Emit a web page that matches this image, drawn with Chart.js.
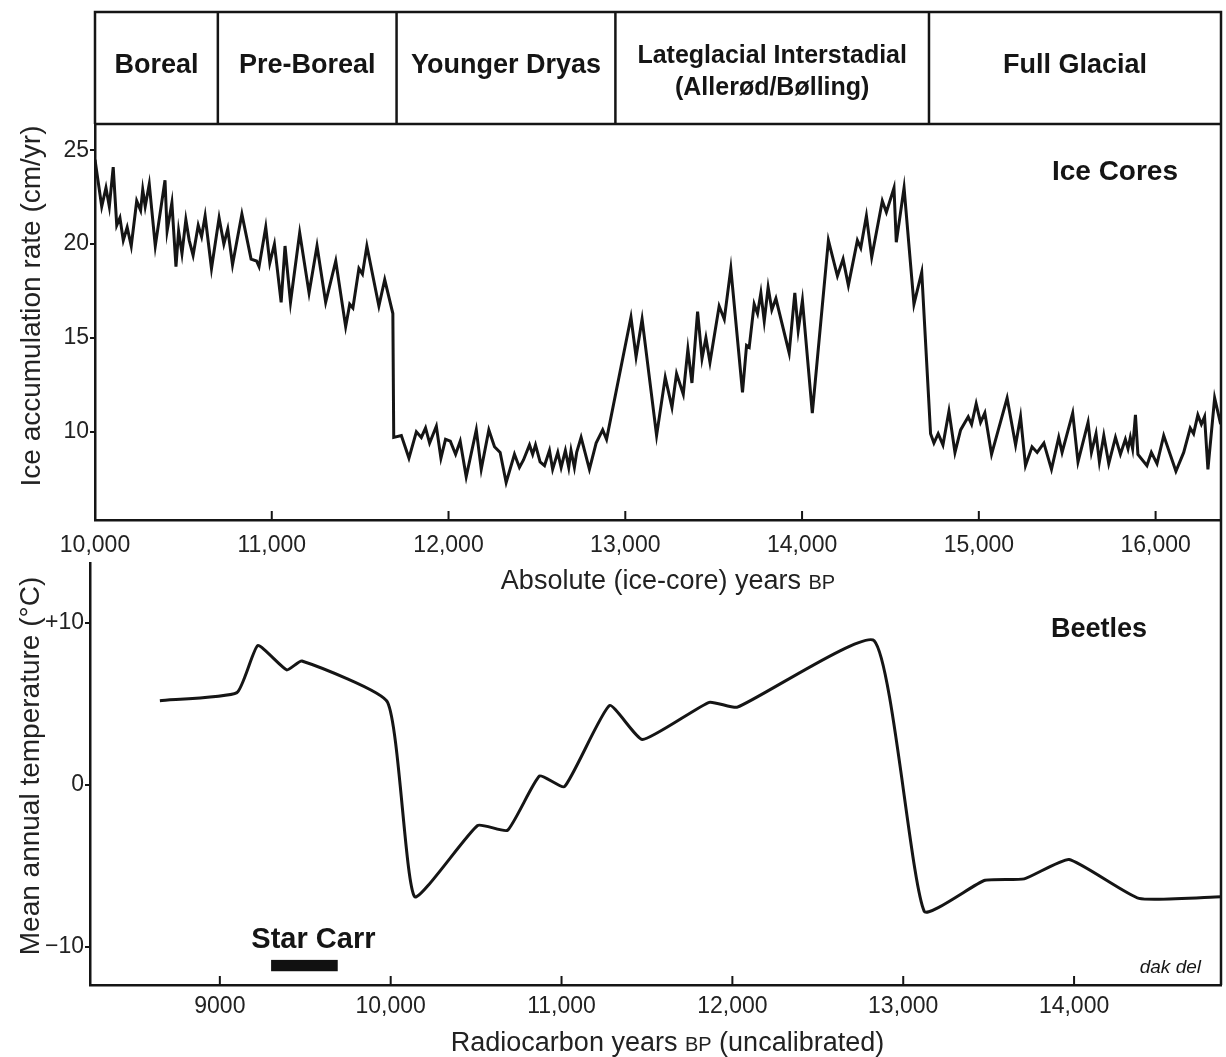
<!DOCTYPE html>
<html>
<head>
<meta charset="utf-8">
<script src="https://cdn.jsdelivr.net/npm/chart.js@4/dist/chart.umd.min.js"></script>
<style>
  html, body { margin: 0; padding: 0; background: #fff; }
  #wrap { position: relative; width: 1226px; height: 1057px; }
  #wrap canvas { position: absolute; left: 0; top: 0; }
</style>
</head>
<body>
<div id="wrap">
  <canvas id="ice" width="1226" height="1057"></canvas>
  <canvas id="beetle" width="1226" height="1057"></canvas>
</div>
<script>
// Ice accumulation (absolute ice-core years BP, cm/yr)
var iceYears = [10000, 10038, 10062, 10081, 10103, 10123, 10141, 10160, 10182, 10205, 10236, 10258, 10270, 10284, 10307, 10341, 10396, 10408, 10435, 10458, 10473, 10492, 10514, 10533, 10555, 10584, 10603, 10623, 10659, 10702, 10729, 10751, 10778, 10831, 10883, 10914, 10928, 10966, 10989, 11015, 11053, 11075, 11106, 11158, 11211, 11256, 11305, 11362, 11418, 11441, 11459, 11493, 11513, 11538, 11606, 11639, 11685, 11690, 11733, 11776, 11818, 11846, 11870, 11893, 11931, 11957, 11983, 12010, 12040, 12066, 12100, 12157, 12185, 12228, 12260, 12292, 12326, 12373, 12401, 12424, 12458, 12476, 12492, 12518, 12543, 12571, 12589, 12618, 12637, 12661, 12680, 12693, 12712, 12725, 12750, 12797, 12835, 12872, 12894, 13032, 13061, 13095, 13177, 13226, 13264, 13290, 13328, 13354, 13377, 13409, 13434, 13456, 13479, 13531, 13560, 13597, 13663, 13686, 13701, 13729, 13748, 13767, 13786, 13808, 13829, 13852, 13927, 13959, 13978, 14002, 14058, 14149, 14200, 14232, 14262, 14313, 14332, 14364, 14394, 14454, 14477, 14520, 14533, 14577, 14633, 14677, 14727, 14746, 14770, 14797, 14831, 14865, 14897, 14940, 14959, 14985, 15010, 15034, 15072, 15160, 15208, 15236, 15264, 15301, 15330, 15368, 15411, 15452, 15471, 15531, 15561, 15618, 15637, 15663, 15682, 15707, 15735, 15773, 15801, 15829, 15844, 15857, 15870, 15886, 15900, 15951, 15976, 16008, 16046, 16115, 16159, 16196, 16215, 16239, 16259, 16277, 16296, 16334, 16368];
var iceRate = [24.5, 22.0, 23.0, 22.0, 24.1, 21.0, 21.4, 20.2, 20.9, 19.9, 22.3, 21.8, 22.9, 22.0, 23.2, 19.9, 23.4, 20.7, 22.2, 18.8, 20.7, 19.5, 21.3, 20.2, 19.4, 21.0, 20.4, 21.5, 18.7, 21.4, 20.0, 20.8, 18.9, 21.6, 19.2, 19.1, 18.8, 20.9, 19.0, 20.0, 16.9, 19.9, 16.9, 20.6, 17.4, 19.9, 16.9, 19.1, 15.6, 16.8, 16.6, 18.7, 18.4, 19.9, 16.7, 18.1, 16.3, 9.7, 9.8, 8.6, 10.0, 9.7, 10.2, 9.4, 10.3, 8.6, 9.6, 9.5, 8.8, 9.5, 7.6, 10.1, 8.0, 10.1, 9.2, 8.9, 7.3, 8.8, 8.1, 8.5, 9.3, 8.8, 9.3, 8.4, 8.2, 9.0, 8.0, 8.9, 8.1, 9.0, 8.1, 9.0, 8.1, 8.9, 9.7, 8.0, 9.4, 10.1, 9.6, 16.1, 14.0, 16.0, 9.8, 12.9, 11.3, 13.1, 12.0, 14.4, 12.6, 16.4, 13.9, 15.0, 13.7, 16.7, 16.0, 18.7, 12.1, 14.6, 14.5, 16.8, 16.3, 17.4, 15.9, 17.7, 16.5, 17.1, 14.2, 17.4, 15.4, 17.0, 11.0, 20.2, 18.3, 19.2, 17.8, 20.2, 19.8, 21.5, 19.3, 22.3, 21.7, 23.0, 20.1, 23.0, 16.8, 18.5, 9.9, 9.4, 9.9, 9.3, 11.1, 8.9, 10.1, 10.8, 10.4, 11.5, 10.5, 11.0, 8.8, 11.8, 9.3, 10.8, 8.2, 9.2, 8.9, 9.4, 8.0, 9.7, 8.9, 11.0, 8.4, 10.5, 8.9, 9.9, 8.4, 9.8, 8.3, 9.7, 8.8, 9.6, 9.1, 9.7, 9.1, 10.9, 8.8, 8.2, 8.9, 8.3, 9.8, 7.9, 8.9, 10.2, 9.9, 10.9, 10.4, 10.8, 8.0, 11.8, 10.4];
var iceTicksX = [10000, 11000, 12000, 13000, 14000, 15000, 16000];
var iceTicksY = [10, 15, 20, 25];

// Beetle temperature reconstruction (radiocarbon years BP, deg C)
var beetleYears = [8649, 9100, 9222, 9392, 9480, 9982, 10140, 10509, 10684, 10871, 11018, 11281, 11474, 11865, 12029, 12830, 13123, 13474, 13708, 13971, 14380, 14860];
var beetleTemp = [5.2, 5.7, 8.6, 7.1, 7.65, 5.1, -6.9, -2.5, -2.8, 0.55, -0.1, 4.9, 2.8, 5.1, 4.8, 8.9, -7.8, -5.9, -5.8, -4.6, -7.0, -6.9];
var beetleTicksX = [9000, 10000, 11000, 12000, 13000, 14000];
var beetleTickLabels = ['9000', '10,000', '11,000', '12,000', '13,000', '14,000'];
var beetleTicksY = [-10, 0, 10];
var beetleTickLabelsY = ['\u221210', '0', '+10'];

// Climate periods along the ice-core time axis
var periodEdges = [10000, 10695, 11706, 12944, 14718, 16370];
var periodNames = [['Boreal'], ['Pre-Boreal'], ['Younger Dryas'], ['Lateglacial Interstadial', '(Allerød/Bølling)'], ['Full Glacial']];

// Star Carr occupation (radiocarbon years BP)
var starCarr = [9300, 9690];

var FONT = '"Liberation Sans", Arial, Helvetica, sans-serif';
var INK = '#151515';

function drawParts(ctx, parts, cx, baseY) {
  var total = 0;
  parts.forEach(function (p) { ctx.font = p.f; total += ctx.measureText(p.t).width; });
  var x = cx - total / 2;
  ctx.textAlign = 'left';
  ctx.textBaseline = 'alphabetic';
  parts.forEach(function (p) { ctx.font = p.f; ctx.fillText(p.t, x, baseY); x += ctx.measureText(p.t).width; });
}

function inwardTicks(ctx, scale, values, area) {
  ctx.beginPath();
  values.forEach(function (v) {
    var px = scale.getPixelForValue(v);
    if (px <= area.left + 2) return;
    ctx.moveTo(px, area.bottom);
    ctx.lineTo(px, area.bottom - 9);
  });
  ctx.stroke();
}

function fixedTicks(values) {
  return function (scale) { scale.ticks = values.map(function (v) { return { value: v }; }); };
}

var tickFont = { family: FONT, size: 23 };
var titleFont = '27px ' + FONT;
var smallCaps = '20px ' + FONT;

var iceFrame = {
  id: 'iceFrame',
  afterDraw: function (chart) {
    var ctx = chart.ctx, a = chart.chartArea, xs = chart.scales.x;
    var headerTop = 12;
    ctx.save();
    ctx.strokeStyle = INK;
    ctx.lineWidth = 2.5;
    // header boxes and right frame
    ctx.beginPath();
    ctx.moveTo(a.left, a.top); ctx.lineTo(a.left, headerTop);
    ctx.lineTo(a.right, headerTop); ctx.lineTo(a.right, a.bottom);
    ctx.moveTo(a.left, a.top); ctx.lineTo(a.right, a.top);
    periodEdges.slice(1, -1).forEach(function (e) {
      var px = xs.getPixelForValue(e);
      ctx.moveTo(px, headerTop); ctx.lineTo(px, a.top);
    });
    ctx.stroke();
    ctx.lineWidth = 2;
    inwardTicks(ctx, xs, iceTicksX, a);

    ctx.fillStyle = INK;
    ctx.textAlign = 'center';
    ctx.textBaseline = 'middle';
    var midY = (headerTop + a.top) / 2;
    periodNames.forEach(function (lines, i) {
      var x0 = xs.getPixelForValue(periodEdges[i]);
      var x1 = Math.min(xs.getPixelForValue(periodEdges[i + 1]), a.right);
      var cx = (x0 + x1) / 2;
      ctx.font = (lines.length > 1 ? 'bold 25px ' : 'bold 27px ') + FONT;
      lines.forEach(function (t, j) {
        var off = lines.length > 1 ? 4 : -2;
        ctx.fillText(t, cx, midY + off + (j - (lines.length - 1) / 2) * 32);
      });
    });

    ctx.font = 'bold 28px ' + FONT;
    ctx.textAlign = 'right';
    ctx.fillText('Ice Cores', a.right - 43, 172);

    ctx.fillStyle = '#222';
    drawParts(ctx, [{ t: 'Absolute (ice-core) years ', f: titleFont }, { t: 'BP', f: smallCaps }], (a.left + a.right) / 2 + 10, 589);
    ctx.translate(30, (a.top + a.bottom) / 2 - 16);
    ctx.rotate(-Math.PI / 2);
    drawParts(ctx, [{ t: 'Ice accumulation rate (cm/yr)', f: '28px ' + FONT }], 0, 10);
    ctx.restore();
  }
};

var iceChart = new Chart(document.getElementById('ice'), {
  type: 'line',
  data: {
    datasets: [{
      data: iceYears.map(function (x, i) { return { x: x, y: iceRate[i] }; }),
      borderColor: INK,
      borderWidth: 3,
      pointRadius: 0,
      tension: 0,
      borderJoinStyle: 'miter'
    }]
  },
  options: {
    responsive: false,
    animation: false,
    layout: { padding: { top: 124, left: 0, right: 5, bottom: 457 } },
    plugins: { legend: { display: false }, tooltip: { enabled: false } },
    scales: {
      x: {
        type: 'linear', min: 10000, max: 16370,
        afterBuildTicks: fixedTicks(iceTicksX),
        afterFit: function (s) { s.height = 80; },
        grid: { display: false, drawTicks: false },
        border: { display: true, color: INK, width: 2.5 },
        ticks: {
          color: '#222', font: tickFont, padding: 12, maxRotation: 0, autoSkip: false,
          callback: function (v) { return v.toLocaleString('en-US'); }
        }
      },
      y: {
        min: 5.3, max: 26.4,
        afterBuildTicks: fixedTicks(iceTicksY),
        afterFit: function (s) { s.width = 95; },
        grid: { drawOnChartArea: false, drawTicks: true, tickLength: 5, color: INK, lineWidth: 2 },
        border: { display: true, color: INK, width: 2.5 },
        ticks: { color: '#222', font: tickFont, padding: 1 }
      }
    }
  },
  plugins: [iceFrame]
});

var beetleFrame = {
  id: 'beetleFrame',
  afterDraw: function (chart) {
    var ctx = chart.ctx, a = chart.chartArea, xs = chart.scales.x, ys = chart.scales.y;
    var joinY = iceChart.chartArea.bottom;
    ctx.save();
    ctx.strokeStyle = INK;
    ctx.lineWidth = 2.5;
    ctx.beginPath();
    ctx.moveTo(a.right, joinY); ctx.lineTo(a.right, a.bottom);
    ctx.stroke();
    ctx.lineWidth = 2;
    inwardTicks(ctx, xs, beetleTicksX, a);

    // Star Carr occupation bar
    ctx.fillStyle = '#111';
    var bx0 = xs.getPixelForValue(starCarr[0]), bx1 = xs.getPixelForValue(starCarr[1]);
    var by0 = ys.getPixelForValue(-10.8), by1 = ys.getPixelForValue(-11.5);
    ctx.fillRect(bx0, by0, bx1 - bx0, by1 - by0);

    ctx.fillStyle = INK;
    ctx.font = 'bold 29px ' + FONT;
    ctx.textAlign = 'center';
    ctx.textBaseline = 'middle';
    ctx.fillText('Star Carr', (bx0 + bx1) / 2 + 9, 940);
    ctx.font = 'bold 27px ' + FONT;
    ctx.textAlign = 'right';
    ctx.fillText('Beetles', a.right - 74, 630);

    ctx.font = 'italic 19px ' + FONT;
    ctx.fillText('dak del', a.right - 20, 968);

    ctx.fillStyle = '#222';
    drawParts(ctx, [
      { t: 'Radiocarbon years ', f: titleFont },
      { t: 'BP', f: smallCaps },
      { t: ' (uncalibrated)', f: titleFont }
    ], (a.left + a.right) / 2 + 12, 1051);
    ctx.translate(29, (a.top + a.bottom) / 2 - 8);
    ctx.rotate(-Math.PI / 2);
    drawParts(ctx, [{ t: 'Mean annual temperature (°C)', f: '28px ' + FONT }], 0, 10);
    ctx.restore();
  }
};

new Chart(document.getElementById('beetle'), {
  type: 'line',
  data: {
    datasets: [{
      data: beetleYears.map(function (x, i) { return { x: x, y: beetleTemp[i] }; }),
      borderColor: INK,
      borderWidth: 3,
      pointRadius: 0,
      tension: 0.15
    }]
  },
  options: {
    responsive: false,
    animation: false,
    layout: { padding: { top: 563, left: 0, right: 5, bottom: 0 } },
    plugins: { legend: { display: false }, tooltip: { enabled: false } },
    scales: {
      x: {
        type: 'linear', min: 8240, max: 14860,
        afterBuildTicks: fixedTicks(beetleTicksX),
        afterFit: function (s) { s.height = 72; },
        grid: { display: false, drawTicks: false },
        border: { display: true, color: INK, width: 2.5 },
        ticks: {
          color: '#222', font: tickFont, padding: 8, maxRotation: 0, autoSkip: false,
          callback: function (v) { return beetleTickLabels[beetleTicksX.indexOf(v)]; }
        }
      },
      y: {
        min: -12.35, max: 13.7,
        afterBuildTicks: fixedTicks(beetleTicksY),
        afterFit: function (s) { s.width = 90; },
        grid: { drawOnChartArea: false, drawTicks: true, tickLength: 5, color: INK, lineWidth: 2 },
        border: { display: true, color: INK, width: 2.5 },
        ticks: {
          color: '#222', font: tickFont, padding: 1,
          callback: function (v) { return beetleTickLabelsY[beetleTicksY.indexOf(v)]; }
        }
      }
    }
  },
  plugins: [beetleFrame]
});
</script>
</body>
</html>
